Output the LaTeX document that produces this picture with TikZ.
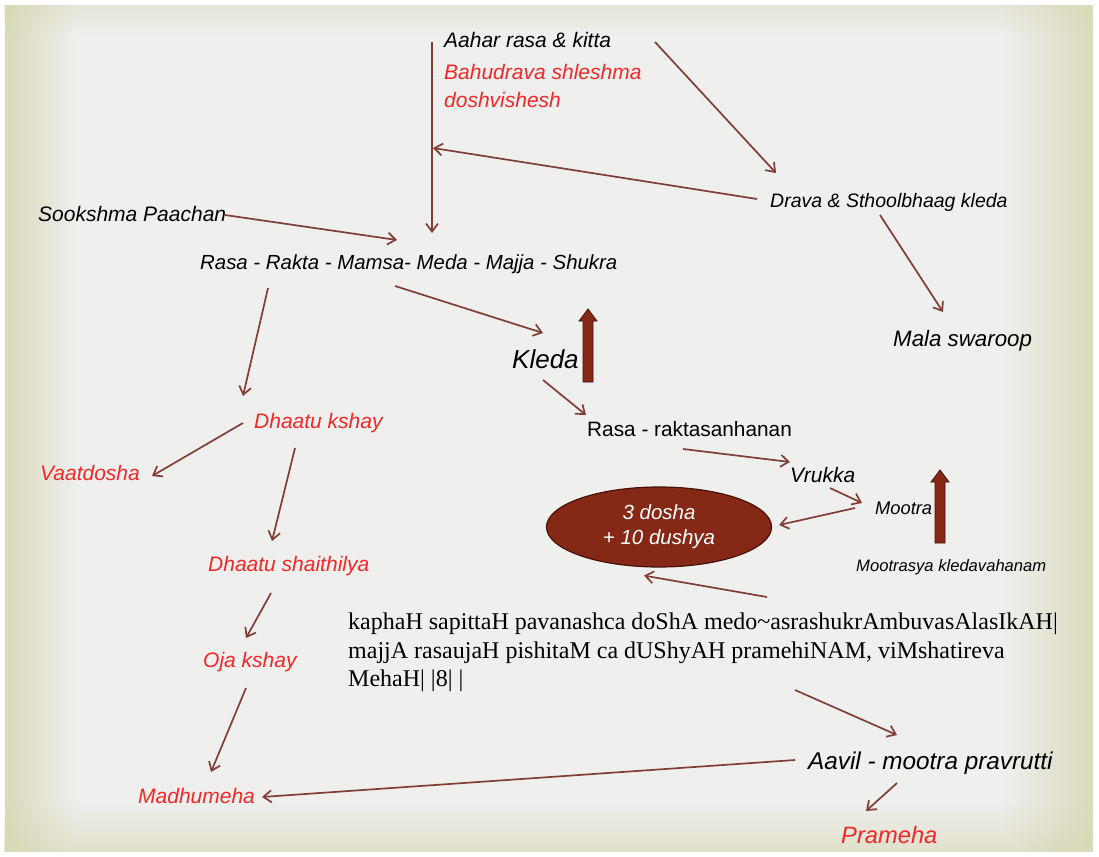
\documentclass[tikz,border=0pt]{standalone}
\usepackage{fontspec}
\setmainfont{Liberation Sans}
\newfontfamily\shlokafont{Liberation Serif}
\usetikzlibrary{arrows.meta,shapes.geometric,fadings}
\definecolor{arrbrown}{RGB}{128,62,54}
\definecolor{lblred}{RGB}{240,40,40}
\definecolor{deepred}{RGB}{134,40,22}
\definecolor{deepedge}{RGB}{70,18,8}
\definecolor{slidebg}{RGB}{239,239,238}
\definecolor{slideedge}{RGB}{216,215,180}
\tikzfading[name=vigleft, left color=transparent!0, right color=transparent!100]
\tikzfading[name=vigright, left color=transparent!100, right color=transparent!0]
\tikzfading[name=vigtop, top color=transparent!0, bottom color=transparent!100]
\tikzfading[name=vigbottom, top color=transparent!100, bottom color=transparent!0]

\begin{document}
\begin{tikzpicture}[x=1pt, y=-1pt,
    lbl/.style={anchor=base west, inner sep=0pt,
                font=\fontsize{21}{25}\selectfont\itshape},
    redlbl/.style={lbl, text=lblred},
    arr/.style={-{Straight Barb[length=8pt,width=12pt]}, line width=1.7pt, color=arrbrown},
    bigarr/.style={fill=deepred, draw=deepedge, line width=0.8pt}
  ]
  \useasboundingbox (0,0) rectangle (1099,856);
  % slide background
  \fill[slidebg] (5,5) rectangle (1093,852);
  \fill[slideedge, path fading=vigleft, fill opacity=0.9] (5,5) rectangle (75,852);
  \fill[slideedge, path fading=vigright, fill opacity=0.85] (1003,5) rectangle (1093,852);
  \fill[slideedge, path fading=vigbottom, fill opacity=0.6] (5,802) rectangle (1093,852);
  \fill[slideedge, path fading=vigtop, fill opacity=0.4] (5,5) rectangle (1093,35);

  % top part
  \node[lbl] (aahar) at (444,48) {Aahar rasa \& kitta};
  \node[redlbl] (bahu) at (444,80) {Bahudrava shleshma};
  \node[redlbl] (dosh) at (444,108) {doshvishesh};
  \node[lbl] (sook) at (38,221) {Sookshma Paachan};
  \node[lbl, font=\fontsize{20.4}{25}\selectfont\itshape] (rasa) at (200,269) {Rasa - Rakta - Mamsa- Meda - Majja - Shukra};
  \node[lbl, font=\fontsize{19.5}{23}\selectfont\itshape] (drava) at (770,207) {Drava \& Sthoolbhaag kleda};
  \node[lbl, font=\fontsize{22.3}{26}\selectfont\itshape] (mala) at (893,346) {Mala swaroop};
  \coordinate (hit) at (433,148);

  % kleda branch
  \node[lbl, font=\fontsize{26}{30}\selectfont\itshape] (kleda) at (512,368) {Kleda};
  \node[lbl, font=\fontsize{20.8}{25}\selectfont] (rrs) at (587,436) {Rasa - raktasanhanan};
  \node[lbl] (vrukka) at (790,482) {Vrukka};
  \node[lbl, font=\fontsize{18.3}{22}\selectfont\itshape] (mootra) at (875,514) {Mootra};
  \node[lbl, font=\fontsize{16.6}{20}\selectfont\itshape] (mkv) at (856,571) {Mootrasya kledavahanam};
  \node[ellipse, fill=deepred, draw=deepedge, line width=1.2pt,
        minimum width=225pt, minimum height=80pt, inner sep=0pt,
        text=white, align=center,
        font=\fontsize{20.5}{25}\selectfont\itshape] (dosha) at (659,527) {3 dosha\\+ 10 dushya};
  \node[anchor=north west, inner sep=0pt, align=left,
        font=\fontsize{24}{28.5}\selectfont\shlokafont] (shloka) at (348,613)
    {kaphaH sapittaH pavanashca doShA medo\textasciitilde asrashukrAmbuvasAlasIkAH|\\
     majjA rasaujaH pishitaM ca dUShyAH pramehiNAM, viMshatireva\\
     MehaH| |8| |};
  \node[lbl, font=\fontsize{24.3}{28}\selectfont\itshape] (aavil) at (808,769) {Aavil - mootra pravrutti};
  \node[redlbl, font=\fontsize{23.7}{28}\selectfont\itshape] (prameha) at (841,843) {Prameha};

  % dhaatu branch
  \node[redlbl] (dkshay) at (254,428) {Dhaatu kshay};
  \node[redlbl] (vaat) at (40,480) {Vaatdosha};
  \node[redlbl] (dshai) at (208,571) {Dhaatu shaithilya};
  \node[redlbl] (oja) at (203,667) {Oja kshay};
  \node[redlbl] (madhu) at (138,803) {Madhumeha};

  % up arrows
  \foreach \x/\t/\b in {588/309/382, 940/470/543}
    \filldraw[bigarr] (\x-5,\b) -- (\x-5,\t+12) -- (\x-9,\t+12) -- (\x,\t)
      -- (\x+9,\t+12) -- (\x+5,\t+12) -- (\x+5,\b) -- cycle;

  % connectors
  \draw[arr] ([shift={(-12,-6)}]aahar.base west) -- ([shift={(232,-36)}]rasa.base west);
  \draw[arr] ([shift={(-13,-8)}]drava.base west) -- (hit);
  \draw[arr] ([shift={(211,-6)}]aahar.base west) -- ([shift={(6,-34)}]drava.base west);
  \draw[arr] ([shift={(110,8)}]drava.base west) -- ([shift={(50,-34)}]mala.base west);
  \draw[arr] ([shift={(187,-6)}]sook.base west) -- ([shift={(197,-29)}]rasa.base west);
  \draw[arr] ([shift={(195,17)}]rasa.base west) -- ([shift={(31,-35)}]kleda.base west);
  \draw[arr] ([shift={(31,12)}]kleda.base west) -- ([shift={(-1,-21)}]rrs.base west);
  \draw[arr] ([shift={(96,13)}]rrs.base west) -- ([shift={(0,-20)}]vrukka.base west);
  \draw[arr] ([shift={(40,6)}]vrukka.base west) -- ([shift={(-13,-11)}]mootra.base west);
  \draw[arr] ([shift={(-20,-6)}]mootra.base west) -- ([shift={(7,-2)}]dosha.east);
  \draw[arr] ([shift={(419,-16)}]shloka.north west) -- ([shift={(-15,8)}]dosha.south);
  \draw[arr] ([shift={(447,77)}]shloka.north west) -- ([shift={(89,-34)}]aavil.base west);
  \draw[arr] ([shift={(-13,-9)}]aavil.base west) -- ([shift={(124,-6)}]madhu.base west);
  \draw[arr] ([shift={(89,14)}]aavil.base west) -- ([shift={(25,-32)}]prameha.base west);
  \draw[arr] ([shift={(68,19)}]rasa.base west) -- ([shift={(-11,-32)}]dkshay.base west);
  \draw[arr] ([shift={(-11,-5)}]dkshay.base west) -- ([shift={(112,-4)}]vaat.base west);
  \draw[arr] ([shift={(41,20)}]dkshay.base west) -- ([shift={(64,-30)}]dshai.base west);
  \draw[arr] ([shift={(63,22)}]dshai.base west) -- ([shift={(43,-29)}]oja.base west);
  \draw[arr] ([shift={(43,21)}]oja.base west) -- ([shift={(73,-31)}]madhu.base west);
\end{tikzpicture}
\end{document}
